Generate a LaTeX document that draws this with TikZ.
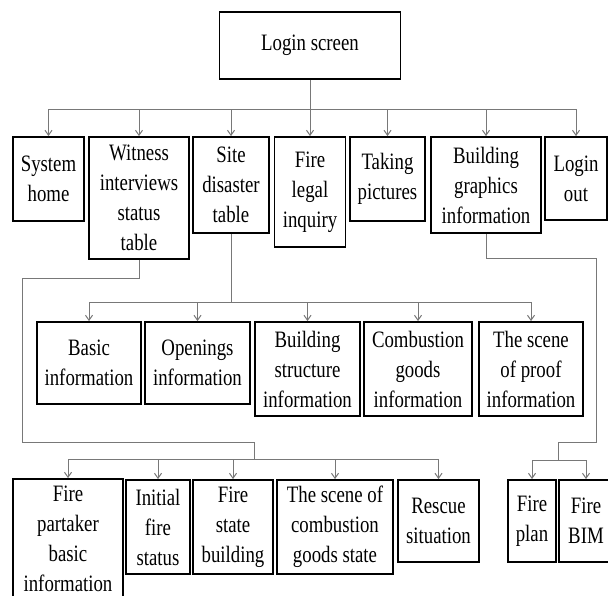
\documentclass[tikz,border=0pt]{standalone}
\usepackage{fontspec}
\setmainfont[FakeStretch=0.8]{Liberation Serif}
\usetikzlibrary{arrows.meta}
\definecolor{conncol}{RGB}{120,120,120}
\begin{document}
\begin{tikzpicture}[x=1pt,y=-1pt,
  box/.style={draw=black,line width=1.8pt,inner sep=0pt,align=center,
    font=\fontsize{23.5}{30}\selectfont},
  conn/.style={draw=conncol,line width=1pt},
  arr/.style={conn,-{Straight Barb[length=5pt,width=7pt]}}]
\useasboundingbox (0,0) rectangle (608,595);
\fill[white] (0,0) rectangle (608,595);
% row 0
\node[box,minimum width=181pt,minimum height=67pt] (login) at (310,45.5) {Login screen};
% row 1
\node[box,minimum width=71pt,minimum height=84pt] (sys) at (48.5,179) {System\\home};
\node[box,minimum width=100pt,minimum height=122pt] (wit) at (139,198) {Witness\\interviews\\status\\table};
\node[box,minimum width=76pt,minimum height=96pt] (site) at (231,185) {Site\\disaster\\table};
\node[box,minimum width=71pt,minimum height=110pt] (legal) at (310,192) {Fire\\legal\\inquiry};
\node[box,minimum width=75pt,minimum height=84pt] (take) at (387.5,179) {Taking\\pictures};
\node[box,minimum width=110pt,minimum height=96pt] (bgi) at (486,185) {Building\\graphics\\information};
\node[box,minimum width=62pt,minimum height=83pt] (out) at (576,178.5) {Login\\out};
% row 2
\node[box,minimum width=104pt,minimum height=82pt] (basic) at (89,363) {Basic\\information};
\node[box,minimum width=105pt,minimum height=82pt] (open) at (197.5,363) {Openings\\information};
\node[box,minimum width=105pt,minimum height=94pt] (struct) at (307.5,369) {Building\\structure\\information};
\node[box,minimum width=108pt,minimum height=94pt] (comb) at (418,369) {Combustion\\goods\\information};
\node[box,minimum width=104pt,minimum height=94pt] (proof) at (531,369) {The scene\\of proof\\information};
% row 3
\node[box,minimum width=110pt,minimum height=119pt] (part) at (68,538.5) {Fire\\partaker\\basic\\information};
\node[box,minimum width=64pt,minimum height=94pt] (init) at (158,527) {Initial\\fire\\status};
\node[box,minimum width=80pt,minimum height=94pt] (state) at (233,527) {Fire\\state\\building};
\node[box,minimum width=116pt,minimum height=94pt] (scene) at (335,527) {The scene of\\combustion\\goods state};
\node[box,minimum width=81pt,minimum height=82pt] (rescue) at (438.5,521) {Rescue\\situation};
\node[box,minimum width=48pt,minimum height=82pt] (plan) at (532,521) {Fire\\plan};
\node[box,minimum width=54pt,minimum height=82pt] (bim) at (586,521) {Fire\\BIM};
% junction coordinates
\coordinate (b1) at (310,109);
\coordinate (b2) at (231,302);
\coordinate (w1) at (22,278);
\coordinate (w2) at (254,442);
\coordinate (b3) at (254,459);
\coordinate (g1) at (596,258);
\coordinate (g2) at (558,442);
\coordinate (b4) at (558,460);
% connectors level 1
\draw[conn] (login.south) -- (b1);
\foreach \n in {sys,wit,site,legal,take,bgi,out}
  \draw[arr] (b1) -| (\n.north);
% site disaster table
\draw[conn] (site.south) -- (b2);
\foreach \n in {basic,open,struct,comb,proof}
  \draw[arr] (b2) -| (\n.north);
% witness table
\draw[conn] (wit.south) |- (w1) |- (w2) -- (b3);
\foreach \n in {part,init,state,scene,rescue}
  \draw[arr] (b3) -| (\n.north);
% building graphics
\draw[conn] (bgi.south) |- (g1) |- (g2) -- (b4);
\foreach \n in {plan,bim}
  \draw[arr] (b4) -| (\n.north);
\end{tikzpicture}
\end{document}
